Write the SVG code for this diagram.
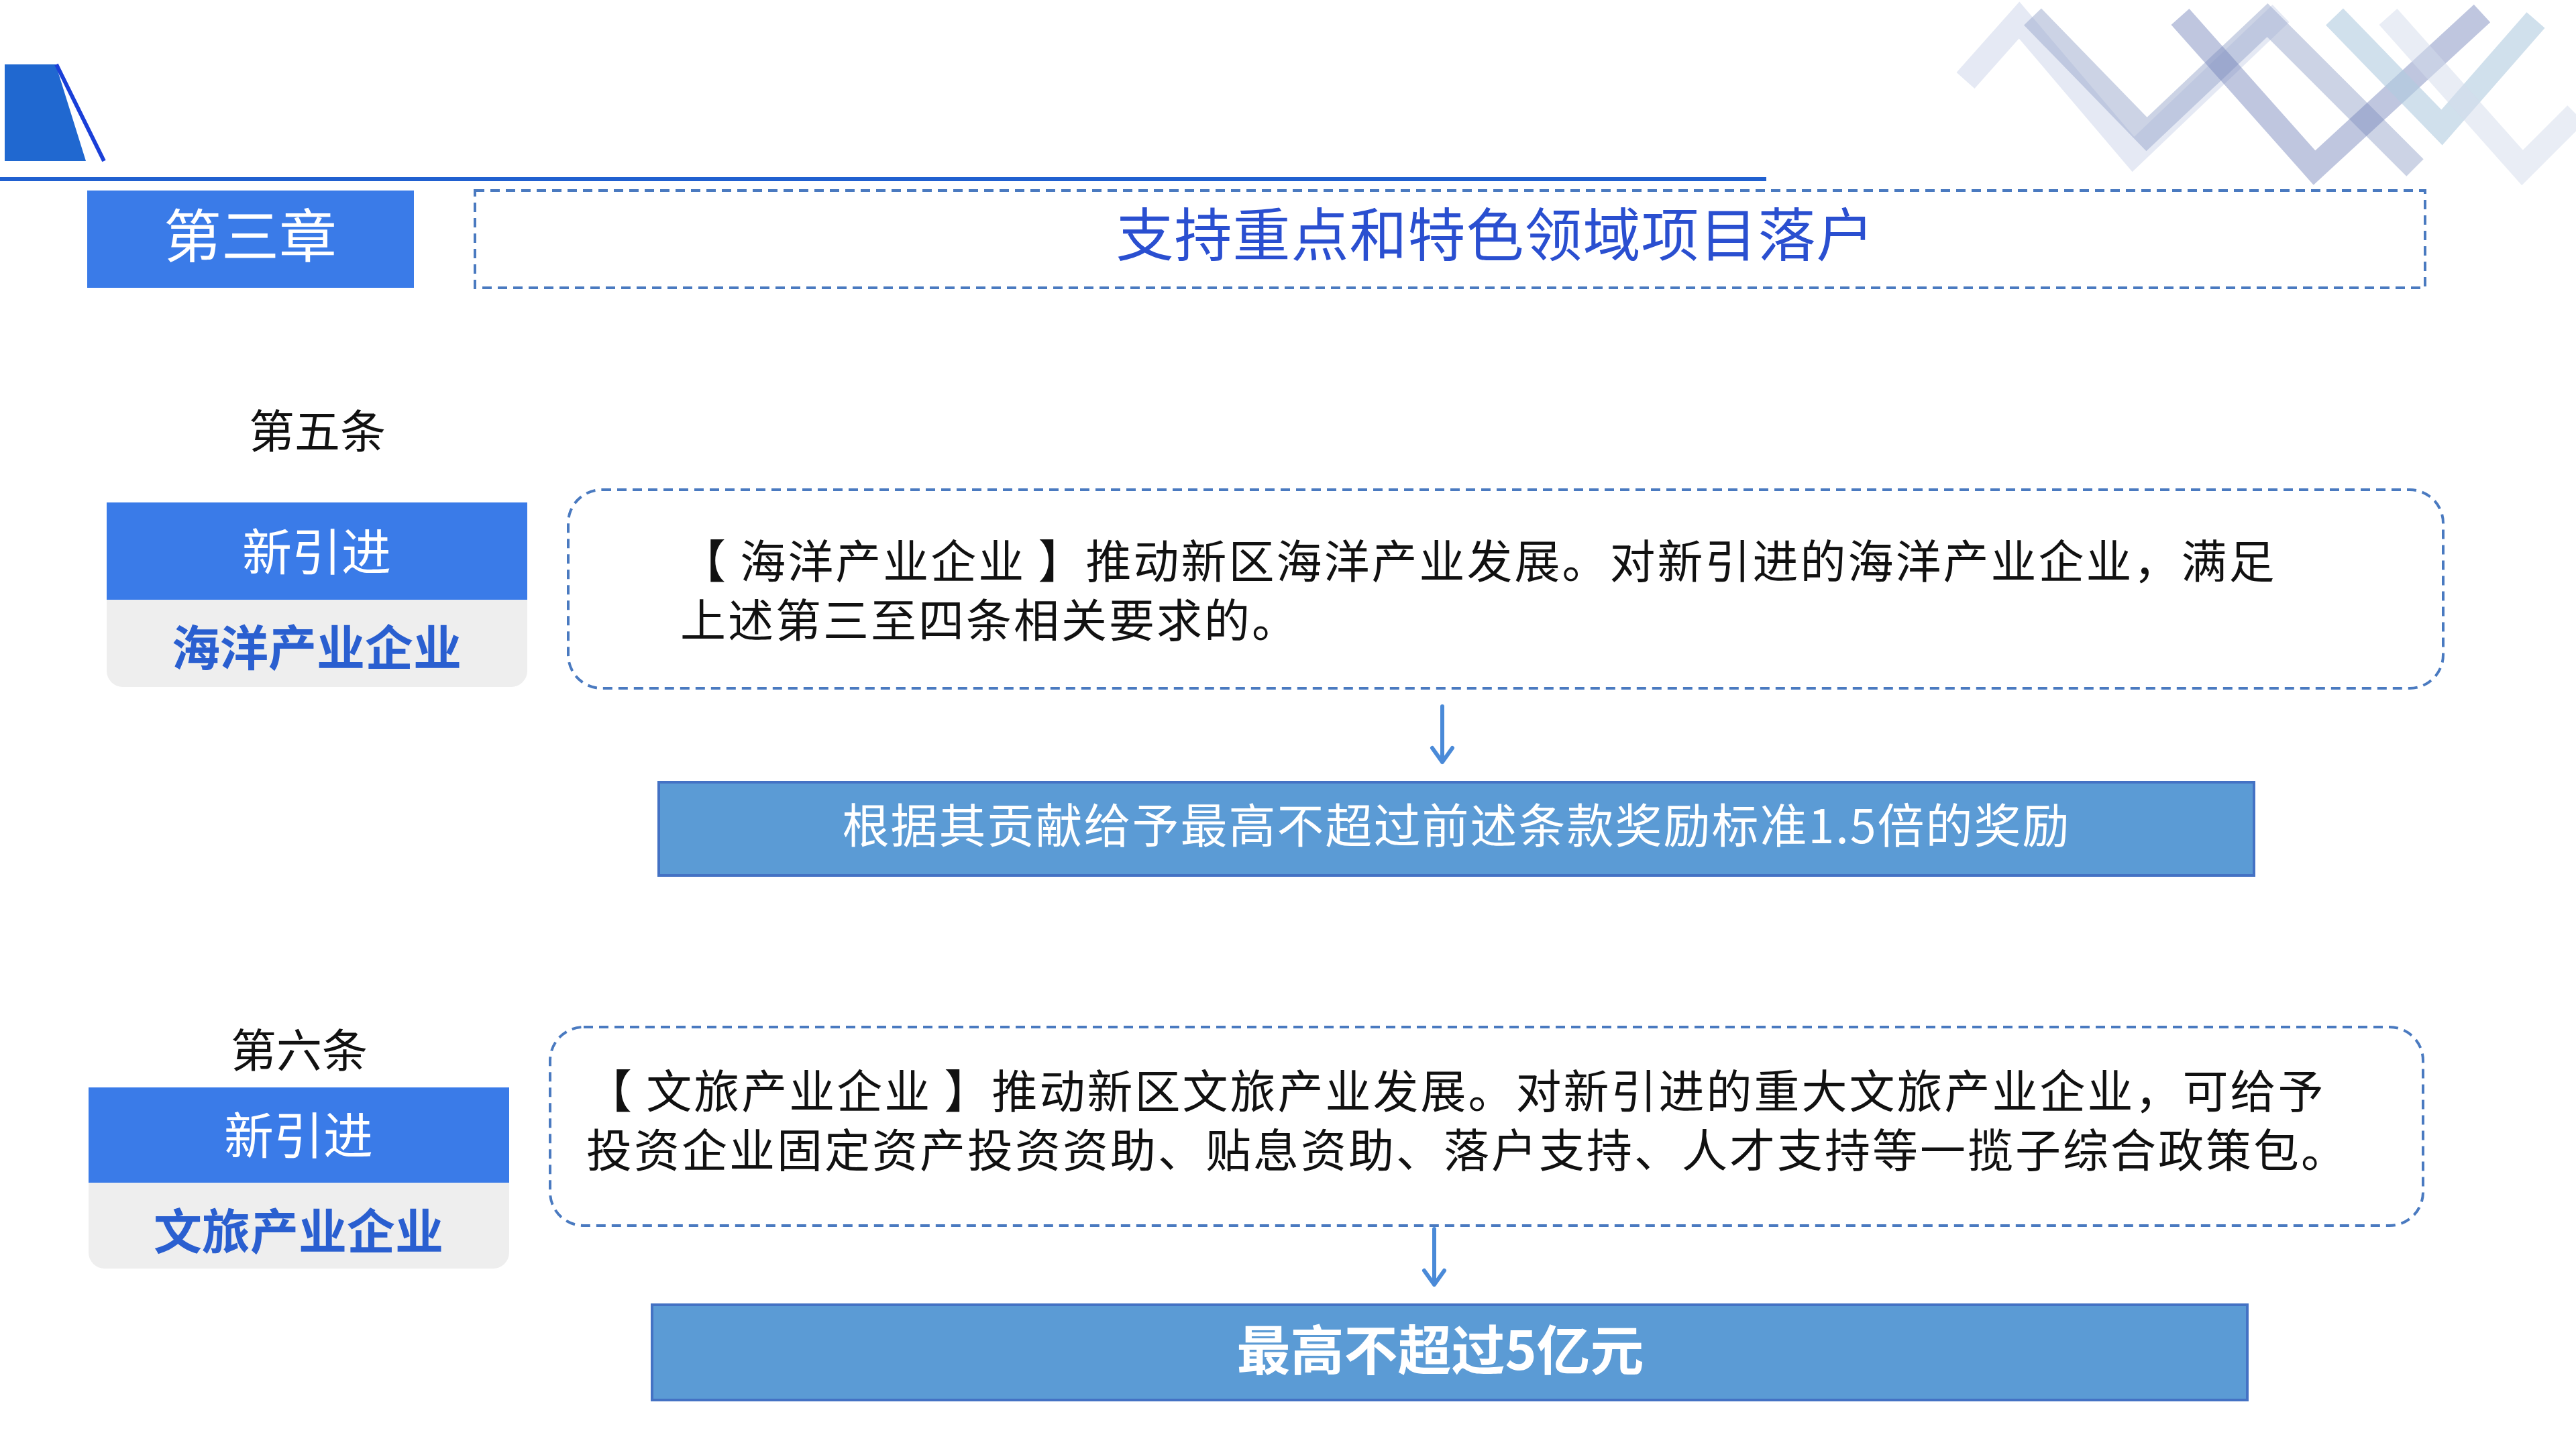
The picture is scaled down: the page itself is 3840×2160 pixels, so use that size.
<svg xmlns="http://www.w3.org/2000/svg" width="3840" height="2160" viewBox="0 0 3840 2160">
<style>
.cn{font-family:"Noto Sans CJK SC","Noto Sans",sans-serif}
.dash{fill:none;stroke:#4a7ac0;stroke-width:4;stroke-dasharray:14 9}
.res{fill:#5b9bd5;stroke:#4472c4;stroke-width:4}
.blue{fill:#3a7be8}
.gray{fill:#eeeeee}
.arr{stroke:#4a8ad8;stroke-width:6;fill:none;stroke-linecap:round;stroke-linejoin:round}
</style>
<rect width="3840" height="2160" fill="#fff"/>
<g id="decor" fill="none" stroke-width="36">
<polyline points="2930,120 3010,30 3180,230 3400,20" stroke="#d4dbec" opacity="0.6"/>
<polyline points="3030,25 3200,200 3380,30 3600,250" stroke="#9aa8cc" opacity="0.5"/>
<polyline points="3250,25 3450,250 3700,20" stroke="#7080b8" opacity="0.45"/>
<polyline points="3480,25 3640,190 3780,30" stroke="#b0cce0" opacity="0.6"/>
<polyline points="3560,25 3760,250 3840,170" stroke="#d4dbec" opacity="0.5"/>
</g>
<g id="header">
<polygon points="7,96 83,96 128,240 7,240" fill="#2068d0"/>
<line x1="84" y1="96" x2="155" y2="240" stroke="#1a3fd8" stroke-width="6"/>
<line x1="0" y1="267" x2="2633" y2="267" stroke="#2060d0" stroke-width="6"/>
</g>
<g id="chapter"><rect class="blue" x="130" y="284" width="487" height="145"/>
<text class="cn" x="373" y="384" font-size="86" fill="#fff" text-anchor="middle">第三章</text></g>
<g id="title"><rect class="dash" x="708" y="284" width="2907" height="145"/>
<text class="cn" x="2229" y="382" font-size="86" fill="#2a4fd0" text-anchor="middle" letter-spacing="1">支持重点和特色领域项目落户</text></g>
<g id="art5">
<text class="cn" x="473" y="668" font-size="68" fill="#111" text-anchor="middle">第五条</text>
<rect class="gray" x="159" y="870" width="627" height="154" rx="24"/>
<rect class="blue" x="159" y="749" width="627" height="145"/>
<text class="cn" x="472" y="850" font-size="74" fill="#fff" text-anchor="middle">新引进</text>
<text class="cn" x="472" y="992" font-size="72" font-weight="bold" fill="#2a5fd0" text-anchor="middle">海洋产业企业</text>
</g>
<g id="box1"><rect class="dash" x="847" y="730" width="2795" height="296" rx="50"/>
<text class="cn" font-size="68" fill="#111" letter-spacing="3"><tspan x="1014" y="862">【 海洋产业企业 】推动新区海洋产业发展。对新引进的海洋产业企业，满足</tspan><tspan x="1014" y="950">上述第三至四条相关要求的。</tspan></text></g>
<g id="res1"><rect class="res" x="982" y="1166" width="2378" height="139"/>
<text class="cn" x="2171" y="1257" font-size="70" fill="#fff" text-anchor="middle" letter-spacing="2">根据其贡献给予最高不超过前述条款奖励标准1.5倍的奖励</text></g>
<g id="art6">
<text class="cn" x="446" y="1591" font-size="68" fill="#111" text-anchor="middle">第六条</text>
<rect class="gray" x="132" y="1740" width="627" height="151" rx="24"/>
<rect class="blue" x="132" y="1621" width="627" height="142"/>
<text class="cn" x="445" y="1720" font-size="74" fill="#fff" text-anchor="middle">新引进</text>
<text class="cn" x="445" y="1862" font-size="72" font-weight="bold" fill="#2a5fd0" text-anchor="middle">文旅产业企业</text>
</g>
<g id="box2"><rect class="dash" x="820" y="1531" width="2792" height="296" rx="50"/>
<text class="cn" font-size="68" fill="#111" letter-spacing="3"><tspan x="874" y="1652">【 文旅产业企业 】推动新区文旅产业发展。对新引进的重大文旅产业企业，可给予</tspan><tspan x="874" y="1740">投资企业固定资产投资资助、贴息资助、落户支持、人才支持等一揽子综合政策包。</tspan></text></g>
<g id="res2"><rect class="res" x="972" y="1945" width="2378" height="142"/>
<text class="cn" x="2147" y="2042" font-size="80" font-weight="bold" fill="#fff" text-anchor="middle">最高不超过5亿元</text></g>
<g id="connectors">
<path class="arr" d="M2150,1053 V1136 M2135,1115 L2150,1136 L2165,1115"/>
<path class="arr" d="M2138,1832 V1915 M2123,1894 L2138,1915 L2153,1894"/>
</g>
</svg>
